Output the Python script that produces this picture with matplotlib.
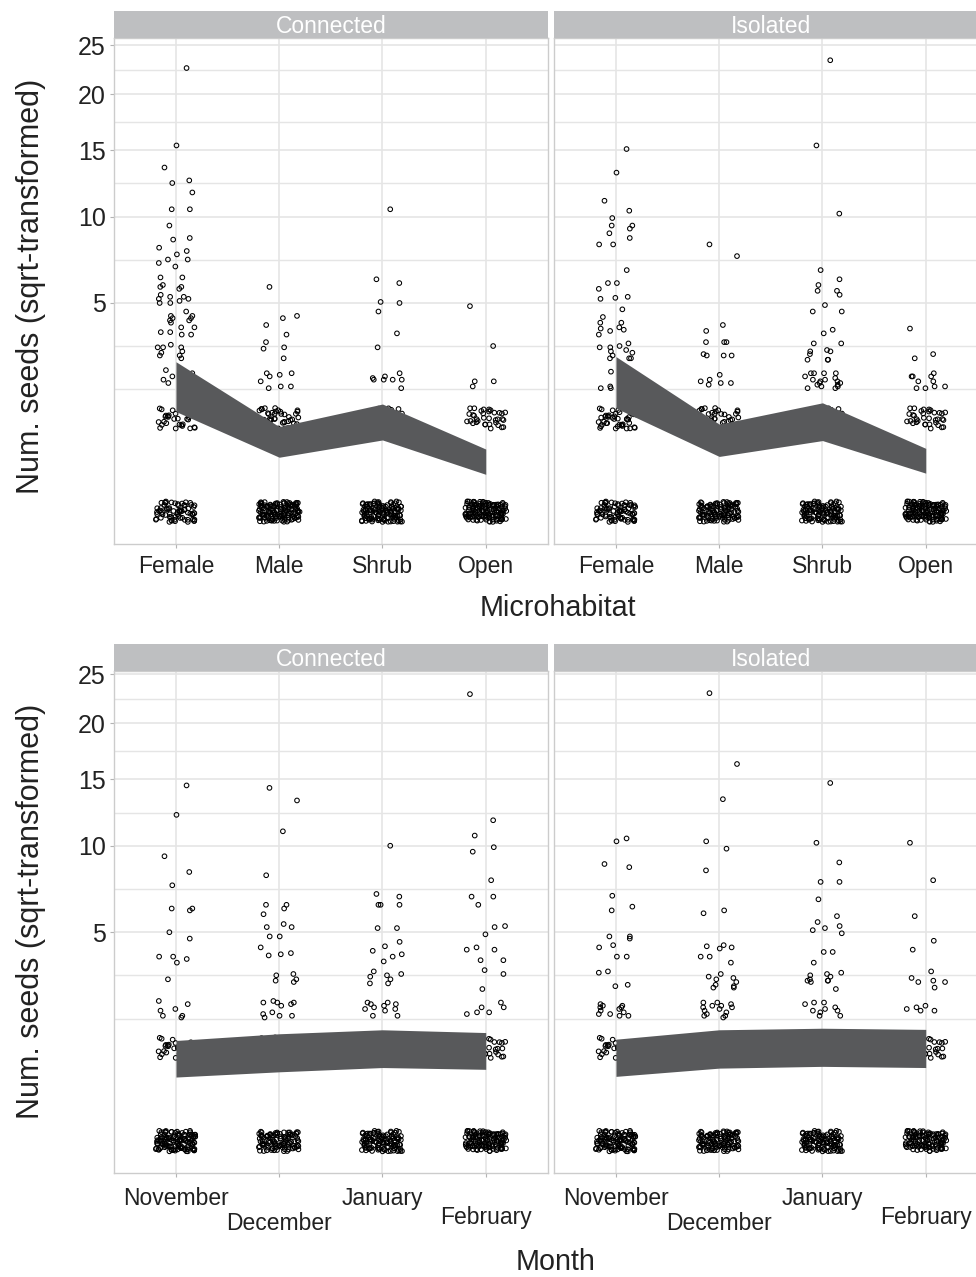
import numpy as np
import matplotlib
matplotlib.use('Agg')
import matplotlib.pyplot as plt

plt.rcParams['font.family'] = ['Liberation Sans', 'DejaVu Sans']

# categories
habitats = ['Female', 'Male', 'Shrub', 'Open']
months = ['November', 'December', 'January', 'February']
facets = ['Connected', 'Isolated']

# counts of zero and one seeds (dense jittered clusters)
hab_conn_zero = [70, 130, 120, 130]
hab_conn_one = [30, 40, 30, 35]
hab_iso_zero = [80, 110, 110, 130]
hab_iso_one = [45, 35, 30, 35]
mon_conn_zero = [120, 100, 110, 120]
mon_conn_one = [30, 30, 30, 30]
mon_iso_zero = [110, 110, 110, 110]
mon_iso_one = [30, 30, 30, 30]

# remaining observations (num. seeds) per category
hab_conn_upper = [
    [22.6, 15.4, 13.6, 12.6, 12.4, 11.7, 10.5, 10.5, 9.4, 8.6, 8.5, 8.0, 7.8, 7.6, 7.3, 7.1,
     7.3, 6.9, 6.3, 6.3, 5.9, 5.8, 5.8, 5.7, 5.4, 5.3, 5.3, 5.2, 5.2, 5.1, 5.0, 5.0, 4.6, 4.4,
     4.4, 4.3, 4.3, 4.2, 4.2, 4.1, 3.9, 3.9, 3.7, 3.7, 3.6, 3.6, 3.2, 3.1, 3.1, 3.1, 2.95, 2.9,
     2.8, 2.8, 2.7, 2.3, 2.2, 2.15, 2.1, 2.0, 2.0, 1.9, 1.9, 1.75],
    [5.8, 4.4, 4.3, 4.0, 3.6, 3.3, 3.1, 3.05, 2.7, 2.2, 2.2, 2.15, 2.1, 1.95, 1.8, 1.8, 1.75],
    [10.5, 6.2, 6.0, 5.05, 5.0, 4.6, 3.65, 3.1, 2.2, 2.1, 2.05, 2.0, 2.0, 2.0, 2.0, 1.75],
    [4.85, 3.15, 1.95, 1.95, 1.8],
]
hab_iso_upper = [
    [15.1, 13.2, 11.1, 10.4, 9.9, 9.4, 9.4, 9.2, 8.9, 8.6, 8.2, 8.2, 6.7, 6.0, 6.0, 5.7, 5.3,
     5.25, 5.2, 4.7, 4.35, 4.1, 4.1, 3.9, 3.85, 3.8, 3.75, 3.6, 3.25, 3.15, 3.1, 3.1, 3.0,
     2.95, 2.9, 2.8, 2.7, 2.7, 2.7, 2.25, 2.05, 2.0, 1.8, 1.75, 1.75, 1.75, 1.75],
    [8.2, 7.5, 4.0, 3.75, 3.3, 3.3, 3.3, 2.85, 2.8, 2.8, 2.8, 2.15, 2.0, 1.95, 1.9, 1.9, 1.85],
    [23.4, 15.4, 10.2, 6.7, 6.2, 5.9, 5.6, 5.6, 5.4, 4.9, 4.6, 4.6, 3.8, 3.65, 3.25, 3.25, 3.0,
     2.95, 2.95, 2.85, 2.65, 2.65, 2.65, 2.2, 2.2, 2.2, 2.2, 2.1, 2.05, 2.0, 2.0, 1.95, 1.95,
     1.9, 1.9, 1.85, 1.85, 1.8, 1.8, 1.75, 1.75],
    [3.85, 2.85, 2.7, 2.2, 2.1, 2.1, 2.1, 1.95, 1.95, 1.8, 1.8, 1.75, 1.75],
]
mon_conn_upper = [
    [14.5, 12.2, 9.3, 8.3, 7.5, 6.2, 6.2, 6.1, 5.0, 4.7, 3.9, 3.9, 3.8, 3.65, 3.0, 2.25, 2.15,
     2.0, 1.95, 1.8, 1.8, 1.75],
    [14.3, 13.3, 11.0, 8.1, 6.4, 6.4, 6.2, 5.9, 5.4, 5.25, 5.25, 4.8, 4.8, 4.3, 4.05, 4.0, 3.95,
     3.2, 3.15, 3.0, 2.95, 2.9, 2.25, 2.2, 2.2, 2.2, 2.15, 2.1, 1.9, 1.85, 1.8, 1.8, 1.75],
    [10.0, 7.0, 6.85, 6.4, 6.4, 6.4, 5.2, 5.2, 4.55, 4.35, 4.15, 4.0, 3.9, 3.7, 3.3, 3.2, 3.15,
     3.1, 3.0, 2.85, 2.85, 2.2, 2.2, 2.15, 2.15, 2.1, 2.05, 2.0, 2.0, 1.95, 1.8, 1.8],
    [22.9, 11.8, 10.7, 9.9, 9.6, 7.8, 6.85, 6.85, 6.4, 5.3, 5.25, 4.9, 4.3, 4.2, 4.2, 3.75,
     3.75, 3.35, 3.2, 2.65, 2.2, 2.05, 2.05, 1.9, 1.9, 1.85],
]
mon_iso_upper = [
    [10.5, 10.3, 8.8, 8.6, 6.9, 6.3, 6.1, 4.8, 4.8, 4.7, 4.4, 4.3, 3.9, 3.9, 3.3, 3.25, 2.8,
     2.75, 2.15, 2.1, 2.1, 2.05, 2.05, 2.0, 1.95, 1.9, 1.85, 1.85, 1.8, 1.8],
    [23.0, 16.3, 13.4, 10.3, 9.8, 8.4, 6.1, 5.95, 4.4, 4.35, 4.3, 4.25, 3.9, 3.9, 3.65, 3.2,
     3.1, 3.05, 3.0, 2.9, 2.8, 2.75, 2.7, 2.7, 2.2, 2.2, 2.15, 2.1, 2.1, 2.05, 2.05, 2.0, 1.95,
     1.9, 1.85, 1.8, 1.8, 1.75],
    [14.7, 10.2, 8.9, 7.7, 7.7, 6.7, 5.8, 5.5, 5.3, 5.2, 5.1, 4.95, 4.1, 4.1, 3.65, 3.25, 3.2,
     3.15, 3.1, 3.0, 2.95, 2.95, 2.95, 2.9, 2.65, 2.2, 2.2, 2.15, 2.05, 2.0, 1.95, 1.95, 1.9,
     1.8, 1.8],
    [10.2, 7.8, 5.8, 4.6, 4.2, 3.3, 3.05, 2.95, 2.9, 2.9, 2.7, 2.1, 2.05, 2.0, 1.95, 1.95],
]

# model confidence bands (num. seeds)
hab_conn_lo = [1.15, 0.34, 0.59, 0.16]
hab_conn_hi = [2.58, 0.83, 1.33, 0.45]
hab_iso_lo = [1.23, 0.35, 0.58, 0.17]
hab_iso_hi = [2.76, 0.88, 1.36, 0.46]
mon_conn_lo = [0.47, 0.55, 0.62, 0.59]
mon_conn_hi = [1.16, 1.32, 1.42, 1.35]
mon_iso_lo = [0.48, 0.61, 0.64, 0.62]
mon_iso_hi = [1.19, 1.42, 1.46, 1.43]

y_breaks = [5, 10, 15, 20, 25]

W, H = 976, 1277
fig = plt.figure(figsize=(W / 100, H / 100), dpi=100)

GRID = '#E5E5E5'
BORDER = '#CCCCCC'
STRIP = '#BEBFC1'
RIBBON = '#58595B'
TXT = '#222222'


def fwd(y):
    y = np.asarray(y, dtype=float)
    return np.sign(y) * np.sqrt(np.abs(y))


def inv(s):
    s = np.asarray(s, dtype=float)
    return np.sign(s) * s ** 2


def px_axes(x0, y0, x1, y1):
    return fig.add_axes([x0 / W, 1 - y1 / H, (x1 - x0) / W, (y1 - y0) / H])


# minor breaks the ggplot way: midpoints in sqrt space
sb = np.sqrt(y_breaks)
sb_ext = np.concatenate([[sb[0] - (sb[1] - sb[0])], sb])
y_minor = inv(np.concatenate([[sb_ext[0]], (sb_ext[:-1] + sb_ext[1:]) / 2]))


def frac_seq(k, a, off):
    # deterministic scatter for the jitter offsets (in [-0.5, 0.5))
    return (k * a + np.sin(k * 12.9898 + off) * 0.37 + off) % 1 - 0.5


def jitter_points(i, upper, n0, n1):
    xs, ys = [], []
    for level, n in ((0, n0), (1, n1)):
        k = np.arange(1, n + 1)
        jx = frac_seq(k, 0.7548776662, 0.13 * i + 0.31 * level) * 0.4
        jy = frac_seq(k, 0.5698402910, 0.29 * i + 0.17 * level + 0.5) * 0.22
        xs.extend(i + jx)
        ys.extend(inv(np.sqrt(level) + jy))
    k = np.arange(1, len(upper) + 1)
    jx = frac_seq(k, 0.6180339887, 0.37 * i) * 0.38
    xs.extend(i + jx)
    ys.extend(upper)
    return xs, ys


def panel(x0, x1, y0, y1, strip_y0, title, cats, zeros, ones, uppers, lo, hi,
          ylim_s, left, pads):
    ax = px_axes(x0, y0, x1, y1)
    ax.set_yscale('function', functions=(fwd, inv))
    for i in range(len(cats)):
        xs, ys = jitter_points(i, uppers[i], zeros[i], ones[i])
        ax.scatter(xs, ys, s=11, facecolors='none', edgecolors='black',
                   linewidths=0.75, zorder=3)
    ax.fill_between(np.arange(len(cats)), lo, hi, color=RIBBON, lw=0, zorder=4)
    ax.set_xlim(-0.6, len(cats) - 0.4)
    ax.set_ylim(inv(ylim_s[0]), inv(ylim_s[1]))
    ax.set_xticks(np.arange(len(cats)))
    ax.set_xticklabels(cats)
    ax.set_yticks(y_breaks)
    ax.set_yticks(y_minor, minor=True)
    ax.set_yticklabels([str(b) for b in y_breaks])
    ax.set_axisbelow(True)
    ax.grid(True, which='major', color=GRID, lw=1.2)
    ax.grid(True, which='minor', axis='y', color=GRID, lw=1.0)
    for sp in ax.spines.values():
        sp.set_color(BORDER)
        sp.set_linewidth(1.0)
    ax.tick_params(which='major', length=3, width=0.8, color='#B3B3B3',
                   labelcolor=TXT)
    ax.tick_params(axis='x', labelsize=16.5)
    ax.tick_params(axis='y', labelsize=18, pad=3)
    ax.tick_params(which='minor', length=0)
    if not left:
        ax.tick_params(axis='y', left=False, labelleft=False)
    for t, p in zip(ax.xaxis.get_major_ticks(), pads):
        t.set_pad(p)

    sax = px_axes(x0, strip_y0, x1, y0)
    sax.set_facecolor(STRIP)
    sax.set_xticks([])
    sax.set_yticks([])
    for sp in sax.spines.values():
        sp.set_visible(False)
    sax.text(0.5, 0.17, title, color='white', ha='center', va='baseline',
             fontsize=16.5, transform=sax.transAxes)
    return ax


top_pads = [4.8, 4.8, 4.8, 4.8]
mon_pads = [7, 24.8, 7, 20.7]

panel(114, 547.7, 37.7, 544.3, 11, facets[0], habitats, hab_conn_zero, hab_conn_one,
      hab_conn_upper, hab_conn_lo, hab_conn_hi, (-0.35, 5.079), True, top_pads)
panel(554, 987.7, 37.7, 544.3, 11, facets[1], habitats, hab_iso_zero, hab_iso_one,
      hab_iso_upper, hab_iso_lo, hab_iso_hi, (-0.35, 5.079), False, top_pads)
panel(114, 547.7, 671, 1173.3, 644, facets[0], months, mon_conn_zero, mon_conn_one,
      mon_conn_upper, mon_conn_lo, mon_conn_hi, (-0.345, 5.033), True, mon_pads)
panel(554, 987.7, 671, 1173.3, 644, facets[1], months, mon_iso_zero, mon_iso_one,
      mon_iso_upper, mon_iso_lo, mon_iso_hi, (-0.345, 5.033), False, mon_pads)

ytitle = 'Num. seeds (sqrt-transformed)'
fig.text(31 / W, 1 - 286 / H, ytitle, rotation=90, ha='center', va='center',
         fontsize=22, color=TXT)
fig.text(31 / W, 1 - 911 / H, ytitle, rotation=90, ha='center', va='center',
         fontsize=22, color=TXT)
fig.text(558 / W, 1 - 615.5 / H, 'Microhabitat', ha='center', va='baseline',
         fontsize=20.7, color=TXT)
fig.text(556 / W, 1 - 1270 / H, 'Month', ha='center', va='baseline',
         fontsize=20.7, color=TXT)

fig.savefig('out.png', dpi=100)
